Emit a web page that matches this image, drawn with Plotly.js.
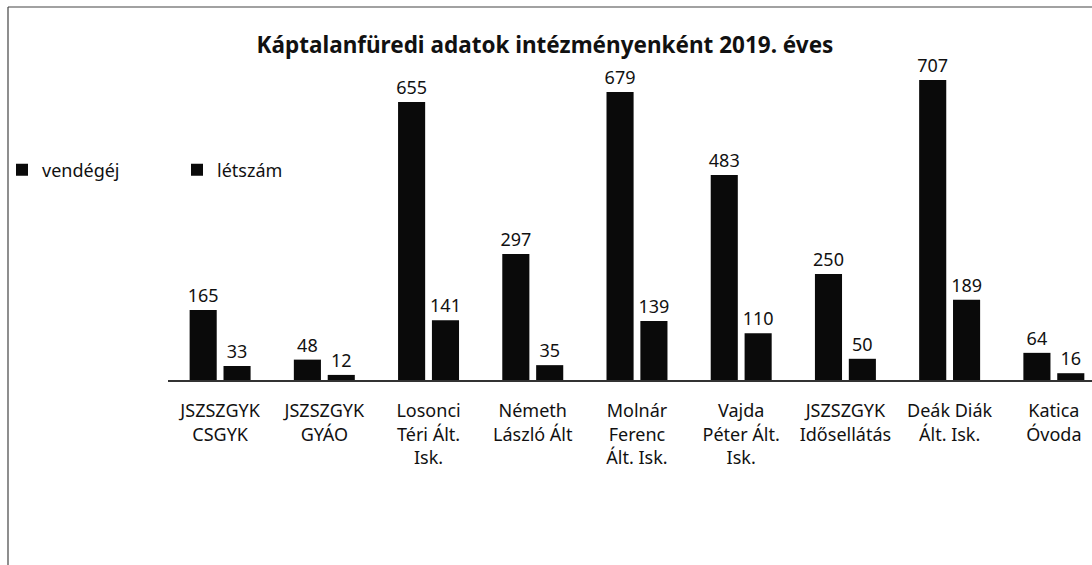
<!DOCTYPE html>
<html>
<head>
<meta charset="utf-8">
<script src="https://cdn.plot.ly/plotly-3.0.1.min.js"></script>
<style>html,body{margin:0;padding:0;background:#fff;overflow:hidden}#chart{width:1092px;height:565px}</style>
</head>
<body>
<div id="chart"></div>
<script>
var categories = [
  "JSZSZGYK<br>CSGYK",
  "JSZSZGYK<br>GYÁO",
  "Losonci<br>Téri Ált.<br>Isk.",
  "Németh<br>László Ált",
  "Molnár<br>Ferenc<br>Ált. Isk.",
  "Vajda<br>Péter Ált.<br>Isk.",
  "JSZSZGYK<br>Idősellátás",
  "Deák Diák<br>Ált. Isk.",
  "Katica<br>Óvoda"
];
var vendegej = [165, 48, 655, 297, 679, 483, 250, 707, 64];
var letszam = [33, 12, 141, 35, 139, 110, 50, 189, 16];
var seriesNames = ["vendégéj", "létszám"];

var fontFam = "'Noto Sans', 'Open Sans', sans-serif";

var traces = [
  {type: "bar", name: seriesNames[0], x: categories, y: vendegej,
   marker: {color: "#0a0a0a"}, text: vendegej.map(String), textposition: "outside", constraintext: "none",
   textfont: {family: fontFam, size: 18, color: "#111"}, cliponaxis: false, hoverinfo: "x+y"},
  {type: "bar", name: seriesNames[1], x: categories, y: letszam,
   marker: {color: "#0a0a0a"}, text: letszam.map(String), textposition: "outside", constraintext: "none",
   textfont: {family: fontFam, size: 18, color: "#111"}, cliponaxis: false, hoverinfo: "x+y"}
];

var layout = {
  width: 1092, height: 565,
  paper_bgcolor: "#fff", plot_bgcolor: "#fff",
  margin: {l: 168, r: 0, t: 60, b: 185, autoexpand: false},
  barmode: "group", bargap: 0.35, bargroupgap: 0.2,
  font: {family: fontFam, size: 18, color: "#111"},
  title: {text: "<b>Káptalanfüredi adatok intézményenként 2019. éves</b>",
          font: {family: fontFam, size: 22.5, color: "#111"},
          x: 545/1092, xref: "container", xanchor: "center", y: 1 - 45/565, yref: "container", yanchor: "middle"},
  xaxis: {type: "category", range: [-0.5, 8.366], showgrid: false, zeroline: false,
          showline: true, linecolor: "#333", linewidth: 1.5, ticks: "", ticklabelstandoff: 14,
          tickfont: {family: fontFam, size: 18, color: "#111"}, fixedrange: true},
  yaxis: {range: [0, 754.2], visible: false, showgrid: false, zeroline: false, fixedrange: true},
  showlegend: true,
  legend: {orientation: "h", xref: "container", yref: "container", x: 2/1092, y: 1 - 170/565,
           xanchor: "left", yanchor: "middle", entrywidth: 130, entrywidthmode: "pixels",
           font: {family: fontFam, size: 18, color: "#111"}, bgcolor: "rgba(0,0,0,0)"},
  shapes: [
    {type: "line", xref: "paper", yref: "paper", x0: (8-168)/924, x1: (8-168)/924,
     y0: (380-7)/320, y1: (380-570)/320, line: {color: "#444", width: 1.2}},
    {type: "line", xref: "paper", yref: "paper", x0: (8-168)/924, x1: 1.02,
     y0: (380-7)/320, y1: (380-7)/320, line: {color: "#444", width: 1.2}}
  ]
};

Plotly.newPlot("chart", traces, layout, {displayModeBar: false, staticPlot: true});
</script>
</body>
</html>
